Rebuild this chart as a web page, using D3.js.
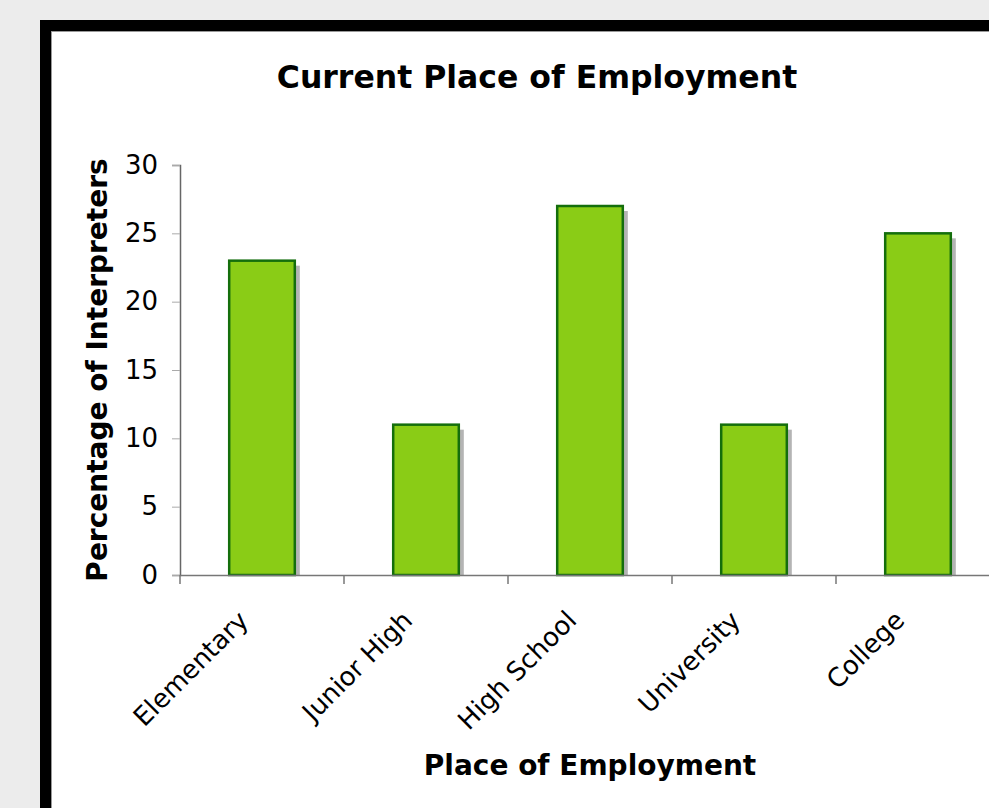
<!DOCTYPE html>
<html>
<head>
<meta charset="utf-8">
<script src="https://cdn.jsdelivr.net/npm/d3@7"></script>
<style>
  html, body { margin: 0; padding: 0; background: #ececec; }
  svg { display: block; }
  text { font-family: "DejaVu Sans", Verdana, sans-serif; fill: #000; }
</style>
</head>
<body>
<svg id="chart" width="989" height="808"></svg>
<script>
var categories = ['Elementary', 'Junior High', 'High School', 'University', 'College'];
var values = [23, 11, 27, 11, 25];
var yTicks = [0, 5, 10, 15, 20, 25, 30];

var svg = d3.select('#chart');

// frame: black border that runs off the right and bottom edge
svg.append('rect')
  .attr('x', 45.5).attr('y', 25.5)
  .attr('width', 1000).attr('height', 1000)
  .attr('fill', '#fff')
  .attr('stroke', '#000')
  .attr('stroke-width', 11);
svg.append('rect')
  .attr('x', 51.5).attr('y', 31.5)
  .attr('width', 1000).attr('height', 1000)
  .attr('fill', 'none')
  .attr('stroke', '#999')
  .attr('stroke-width', 1);

var plotLeft = 180, plotRight = 1000, plotTop = 165, plotBottom = 575;

var x = d3.scaleBand().domain(categories).range([plotLeft, plotRight]).paddingInner(0.6).paddingOuter(0.3);
var xb = d3.scaleBand().domain(categories).range([plotLeft, plotRight]);
var y = d3.scaleLinear().domain([0, 30]).range([plotBottom, plotTop]);

// shadows
svg.append('g').selectAll('rect')
  .data(values)
  .join('rect')
  .attr('x', function (d, i) { return x(categories[i]) + 5; })
  .attr('y', function (d) { return y(d) + 5; })
  .attr('width', x.bandwidth())
  .attr('height', function (d) { return plotBottom - y(d) - 5; })
  .attr('fill', '#b4b4b4');

// bars
svg.append('g').selectAll('rect')
  .data(values)
  .join('rect')
  .attr('x', function (d, i) { return x(categories[i]); })
  .attr('y', function (d) { return y(d); })
  .attr('width', x.bandwidth())
  .attr('height', function (d) { return plotBottom - y(d); })
  .attr('fill', '#8acc16')
  .attr('stroke', '#146e0c')
  .attr('stroke-width', 2.5);

// y axis
var yAxis = svg.append('g')
  .attr('transform', 'translate(' + plotLeft + ',0)')
  .call(d3.axisLeft(y).tickValues(yTicks).tickSize(8).tickPadding(14));
yAxis.select('.domain').attr('stroke', '#666').attr('stroke-width', 1.5);
yAxis.selectAll('.tick line').attr('stroke', '#aaa');
yAxis.selectAll('.tick text')
  .style('font-family', '"DejaVu Sans", Verdana, sans-serif')
  .style('font-size', '26px')
  .attr('fill', '#000');

// x axis
var xAxis = svg.append('g')
  .attr('transform', 'translate(0,' + plotBottom + ')')
  .call(d3.axisBottom(xb).tickValues([]).tickSizeOuter(0));
xAxis.select('.domain').attr('stroke', '#777').attr('stroke-width', 1.5);
xAxis.selectAll('line.sep')
  .data(d3.range(categories.length + 1))
  .join('line')
  .attr('class', 'sep')
  .attr('x1', function (i) { return plotLeft + i * xb.step(); })
  .attr('x2', function (i) { return plotLeft + i * xb.step(); })
  .attr('y1', 0).attr('y2', 9)
  .attr('stroke', '#777')
  .attr('stroke-width', 1.5);

// category labels
svg.append('g').selectAll('text')
  .data(categories)
  .join('text')
  .attr('transform', function (d) {
    return 'translate(' + (xb(d) + xb.bandwidth() / 2 - 12) + ',' + (plotBottom + 47) + ') rotate(-45)';
  })
  .attr('text-anchor', 'end')
  .style('font-size', '26px')
  .text(function (d) { return d; });

// titles
svg.append('text')
  .attr('x', 537).attr('y', 88)
  .attr('text-anchor', 'middle')
  .style('font-size', '31.5px')
  .style('font-weight', 'bold')
  .text('Current Place of Employment');

svg.append('text')
  .attr('x', (plotLeft + plotRight) / 2).attr('y', 775)
  .attr('text-anchor', 'middle')
  .style('font-size', '28px')
  .style('font-weight', 'bold')
  .text('Place of Employment');

svg.append('text')
  .attr('transform', 'translate(107,' + ((plotTop + plotBottom) / 2) + ') rotate(-90)')
  .attr('text-anchor', 'middle')
  .style('font-size', '28px')
  .style('font-weight', 'bold')
  .text('Percentage of Interpreters');
</script>
</body>
</html>
